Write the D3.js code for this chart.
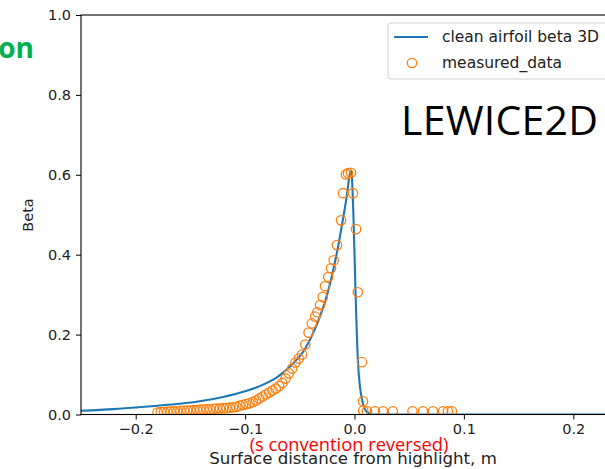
<!DOCTYPE html>
<html>
<head>
<meta charset="utf-8">
<script src="https://cdn.jsdelivr.net/npm/d3@7"></script>
<style>
  body { margin: 0; background: #fff; }
  svg { display: block; }
</style>
</head>
<body>
<div id="chart"></div>
<script>
// Clean airfoil beta (blue line)
var lineX = [-0.25, -0.22, -0.2, -0.18, -0.16, -0.14, -0.12, -0.1, -0.085, -0.07, -0.059,
             -0.045, -0.036, -0.025, -0.015, -0.008, -0.003, -0.001, 0.001, 0.003, 0.005, 0.007,
             0.0114, 0.017, 0.25];
var lineY = [0.0095, 0.0135, 0.0175, 0.022, 0.027, 0.034, 0.044, 0.058, 0.073, 0.095, 0.12,
             0.165, 0.215, 0.30, 0.42, 0.53, 0.61, 0.50, 0.30, 0.14, 0.07, 0.036,
             0.006, 0.0, 0.0];

// Measured data (orange circles)
var measX = [-0.180, -0.177, -0.174, -0.171, -0.168, -0.165, -0.162, -0.159, -0.156, -0.153,
             -0.150, -0.147, -0.144, -0.141, -0.138, -0.135, -0.132, -0.129, -0.126, -0.123,
             -0.120, -0.117, -0.114, -0.111, -0.108, -0.105, -0.102, -0.099, -0.096, -0.093,
             -0.090, -0.087, -0.084, -0.081, -0.078, -0.075, -0.072, -0.069, -0.066, -0.063,
             -0.060, -0.057, -0.054, -0.051, -0.048, -0.045, -0.042, -0.039, -0.036, -0.034,
             -0.0315, -0.029, -0.027, -0.024, -0.0215, -0.019, -0.016, -0.0123, -0.0105, -0.0078,
             -0.0059, -0.0032, -0.0014, 0.0014, 0.003, 0.0068, 0.0078, 0.008, 0.0114, 0.0187,
             0.026, 0.035, 0.053, 0.0626, 0.0717, 0.081, 0.0854, 0.089];
var measY = [0.005, 0.006, 0.006, 0.007, 0.007, 0.008, 0.008, 0.009, 0.009, 0.010,
             0.010, 0.011, 0.011, 0.012, 0.012, 0.013, 0.013, 0.014, 0.015, 0.015,
             0.016, 0.016, 0.017, 0.018, 0.019, 0.022, 0.024, 0.026, 0.028, 0.031,
             0.035, 0.040, 0.045, 0.050, 0.055, 0.060, 0.065, 0.071, 0.079, 0.090,
             0.103, 0.115, 0.130, 0.140, 0.150, 0.175, 0.205, 0.228, 0.245, 0.256,
             0.274, 0.294, 0.321, 0.344, 0.366, 0.386, 0.424, 0.486, 0.554, 0.601,
             0.604, 0.605, 0.554, 0.464, 0.306, 0.131, 0.033, 0.010, 0.008, 0.008,
             0.008, 0.008, 0.008, 0.008, 0.008, 0.008, 0.008, 0.008];

var xTicks = [-0.2, -0.1, 0.0, 0.1, 0.2];
var yTicks = [0.0, 0.2, 0.4, 0.6, 0.8, 1.0];
var seriesNames = ["clean airfoil beta 3D", "measured_data"];

var width = 605, height = 469;
var plotLeft = 81, plotRight = 628, plotTop = 15, plotBottom = 414.5;

var svg = d3.select("#chart").append("svg")
    .attr("width", width)
    .attr("height", height);

var x = d3.scaleLinear().domain([-0.25, 0.25]).range([plotLeft, plotRight]);
var y = d3.scaleLinear().domain([0, 1]).range([plotBottom, plotTop]);

svg.append("clipPath").attr("id", "plotclip")
  .append("rect")
    .attr("x", plotLeft).attr("y", plotTop)
    .attr("width", plotRight - plotLeft).attr("height", plotBottom - plotTop);

var plot = svg.append("g").attr("clip-path", "url(#plotclip)");

// blue line
var lineData = lineX.map(function(d, i) { return [d, lineY[i]]; });
plot.append("path")
    .datum(lineData)
    .attr("fill", "none")
    .attr("stroke", "#1f77b4")
    .attr("stroke-width", 2.1)
    .attr("d", d3.line()
        .x(function(d) { return x(d[0]); })
        .y(function(d) { return y(d[1]); })
        .curve(d3.curveMonotoneX));

// measured circles
plot.selectAll(".meas")
    .data(measX.map(function(d, i) { return [d, measY[i]]; }))
    .enter().append("circle")
    .attr("class", "meas")
    .attr("cx", function(d) { return x(d[0]); })
    .attr("cy", function(d) { return y(d[1]); })
    .attr("r", 4.7)
    .attr("fill", "none")
    .attr("stroke", "#ff7f0e")
    .attr("stroke-width", 1.3);

// axes
var fmt = d3.format(".1f");
var xAxis = svg.append("g")
    .attr("transform", "translate(0," + plotBottom + ")")
    .call(d3.axisBottom(x).tickValues(xTicks).tickSize(5).tickPadding(4).tickFormat(fmt));
var yAxis = svg.append("g")
    .attr("transform", "translate(" + plotLeft + ",0)")
    .call(d3.axisLeft(y).tickValues(yTicks).tickSize(5).tickPadding(5).tickFormat(fmt));

[xAxis, yAxis].forEach(function(a) {
    a.select(".domain").remove();
    a.selectAll("line").attr("stroke", "#000").attr("stroke-width", 1);
    a.selectAll("text")
        .attr("fill", "#222")
        .style("font-family", "DejaVu Sans")
        .style("font-size", "14.5px");
});

// frame
svg.append("rect")
    .attr("x", plotLeft).attr("y", plotTop)
    .attr("width", plotRight - plotLeft).attr("height", plotBottom - plotTop)
    .attr("fill", "none")
    .attr("stroke", "#000")
    .attr("stroke-width", 1.1);

// axis labels
svg.append("text")
    .attr("x", 28).attr("y", 215)
    .attr("transform", "rotate(-90,28,215)")
    .attr("text-anchor", "middle")
    .attr("dy", "0.35em")
    .style("font-family", "DejaVu Sans")
    .style("font-size", "14.5px")
    .attr("fill", "#222")
    .text("Beta");

svg.append("text")
    .attr("x", 353).attr("y", 464)
    .attr("text-anchor", "middle")
    .style("font-family", "DejaVu Sans")
    .style("font-size", "16.6px")
    .attr("fill", "#222")
    .text("Surface distance from highlight, m");

svg.append("text")
    .attr("x", 349).attr("y", 451)
    .attr("text-anchor", "middle")
    .style("font-family", "Open Sans")
    .style("font-size", "18.3px")
    .attr("fill", "#ff0000")
    .text("(s convention reversed)");

// legend
var legend = svg.append("g");
legend.append("rect")
    .attr("x", 388).attr("y", 23)
    .attr("width", 260).attr("height", 56)
    .attr("rx", 3)
    .attr("fill", "#fff").attr("fill-opacity", 0.8)
    .attr("stroke", "#d0d0d0");
legend.append("line")
    .attr("x1", 394).attr("x2", 428)
    .attr("y1", 37).attr("y2", 37)
    .attr("stroke", "#1f77b4").attr("stroke-width", 2.1);
legend.append("circle")
    .attr("cx", 412).attr("cy", 63).attr("r", 4.7)
    .attr("fill", "none").attr("stroke", "#ff7f0e").attr("stroke-width", 1.3);
legend.selectAll(".ltext")
    .data(seriesNames)
    .enter().append("text")
    .attr("class", "ltext")
    .attr("x", 442)
    .attr("y", function(d, i) { return 37 + i * 26; })
    .attr("dy", "0.35em")
    .style("font-family", "DejaVu Sans")
    .style("font-size", "15.5px")
    .attr("fill", "#222")
    .text(function(d) { return d; });

// overlay annotations
svg.append("text")
    .attr("x", 401).attr("y", 135)
    .attr("textLength", 197)
    .style("font-family", "Open Sans")
    .style("font-size", "41px")
    .attr("fill", "#000")
    .text("LEWICE2D");

svg.append("text")
    .attr("x", 34).attr("y", 58)
    .attr("text-anchor", "end")
    .style("font-family", "Open Sans")
    .style("font-weight", "bold")
    .style("font-size", "28px")
    .attr("fill", "#00b050")
    .text("on");
</script>
</body>
</html>
